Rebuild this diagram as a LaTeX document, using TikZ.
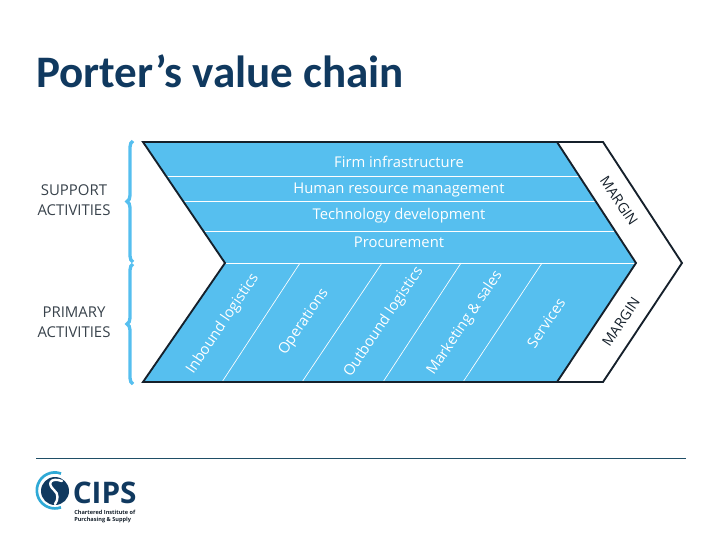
\documentclass[tikz,border=0pt]{standalone}
\usepackage{xcolor}
\usepackage{fontspec}
\setmainfont{Open Sans}
\newfontfamily\titlefont{Carlito}
\usetikzlibrary{decorations.pathreplacing}
\definecolor{fg}{HTML}{15202B}
\definecolor{accent}{HTML}{56BFEF}
\definecolor{navy}{HTML}{10395F}
\definecolor{rulecol}{HTML}{1F4E66}
\definecolor{logoarc}{HTML}{2FA9D6}
\tikzset{
  bandlabel/.style={text=white,font=\fontsize{11.1}{12}\selectfont,inner sep=0pt},
  slantlabel/.style={text=white,font=\fontsize{11.1}{12}\selectfont,inner sep=0pt,rotate=56},
  marginlabel/.style={text=fg,font=\fontsize{10.6}{12}\selectfont,inner sep=0pt},
  sidelabel/.style={text=fg!85,font=\fontsize{11.2}{14.8}\selectfont,align=center,inner sep=0pt},
  sepline/.style={white,line width=0.7pt},
  edgeline/.style={fg,line width=1.4pt,line join=miter},
  bracket/.style={accent,line width=2.5pt,decorate,decoration={brace,amplitude=4.5pt}},
}
\begin{document}
\begin{tikzpicture}[x=0.75pt,y=-0.75pt]
  \useasboundingbox (0,0) rectangle (720,540);
  \node[anchor=west,inner sep=0pt,text=navy,font=\titlefont\bfseries\fontsize{33.8}{36}\selectfont] (title) at (36,71) {Porter’s value chain};

  \coordinate (tl) at (143,142);
  \coordinate (notch) at (225,263);
  \coordinate (bl) at (143,382);
  \coordinate (tr) at (557,142);
  \coordinate (tip) at (636,263);
  \coordinate (br) at (557,382);
  \coordinate (otr) at (603,142);
  \coordinate (otip) at (682,263);
  \coordinate (obr) at (603,382);

  \fill[accent] (tl) -- (tr) -- (tip) -- (br) -- (bl) -- (notch) -- cycle;

  \draw[sepline] (166,176) -- (579,176);
  \draw[sepline] (183,201) -- (596,201);
  \draw[sepline] (203,231) -- (616,231);
  \draw[sepline] (notch) -- (tip);
  \foreach \xa/\xb in {222/300,302/382,383/461,463/542}
    \draw[sepline,line width=0.5pt] (\xa,382) -- (\xb,263);

  \draw[edgeline] (notch) -- (tl) -- (otr) -- (otip) -- (obr) -- (bl) -- cycle;
  \draw[edgeline] (tr) -- (tip) -- (br);

  \node[bandlabel] (firm) at (399,162) {Firm infrastructure};
  \node[bandlabel] (hrm) at (399,189.5) {Human resource management};
  \node[bandlabel] (tech) at (399,216) {Technology development};
  \node[bandlabel] (proc) at (399,242) {Procurement};

  \node[slantlabel] (inbound) at (223,324) {Inbound logistics};
  \node[slantlabel] (oper) at (304,322) {Operations};
  \node[slantlabel] (outbound) at (384,322) {Outbound logistics};
  \node[slantlabel] (market) at (465,323) {Marketing \& sales};
  \node[slantlabel] (serv) at (546,323) {Services};

  \node[marginlabel,rotate=-56] (margintop) at (619,201) {MARGIN};
  \node[marginlabel,rotate=56] (marginbot) at (621,322) {MARGIN};

  \node[sidelabel] (support) at (74,200.5) {SUPPORT\\ACTIVITIES};
  \node[sidelabel] (primary) at (74,322.5) {PRIMARY\\ACTIVITIES};

  \coordinate (b1) at (133,141);
  \coordinate (b2) at (133,262);
  \coordinate (b3) at (133,264);
  \coordinate (b4) at (133,384);
  \draw[bracket] (b2) -- (b1);
  \draw[bracket] (b4) -- (b3);

  \coordinate (rulea) at (36,458);
  \coordinate (ruleb) at (686,458);
  \draw[rulecol,line width=0.6pt] (rulea) -- (ruleb);

  \coordinate (logo) at (55,491);
  \draw[logoarc,line width=2pt] (61,473.5) arc[start angle=-70,end angle=-290,radius=18];
  \fill[navy] (logo) circle[radius=14];
  \draw[white,line width=1.8pt,line cap=round] (62,481) .. controls (50,477) and (47,484) .. (54,490) .. controls (59,494) and (58,500) .. (55,504);
  \node[anchor=west,inner sep=0pt,text=navy,font=\bfseries\fontsize{22.3}{24}\selectfont] (cips) at (72.5,492.5) {CIPS};
  \node[anchor=north west,inner sep=0pt,text=fg,align=left,font=\bfseries\fontsize{4.2}{5.7}\selectfont] (cipstext) at (74,509.5) {Chartered Institute of\\Purchasing \& Supply};
\end{tikzpicture}
\end{document}
